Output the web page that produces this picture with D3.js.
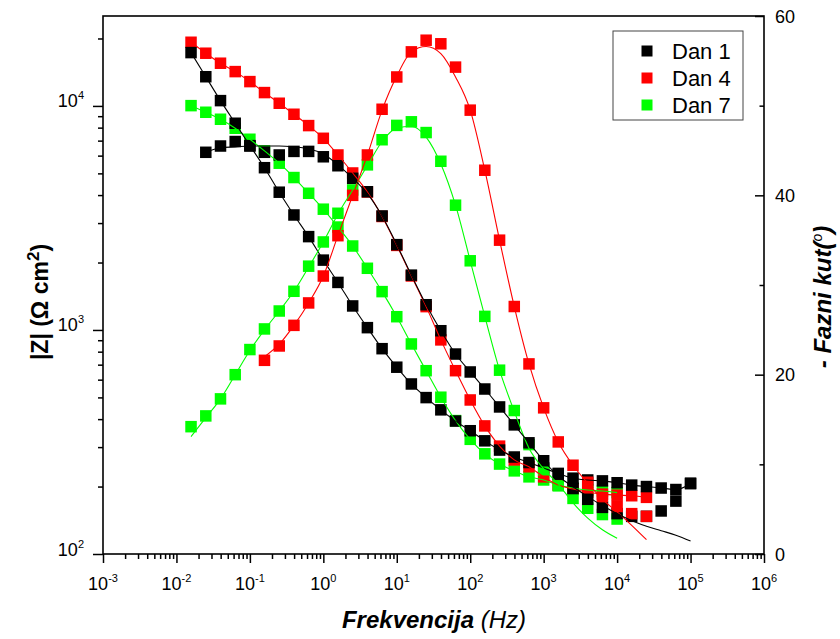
<!DOCTYPE html>
<html><head><meta charset="utf-8">
<script src="https://cdn.jsdelivr.net/npm/d3@7"></script>
<style>body{margin:0;background:#fff}svg{display:block}text{font-family:Arial,"Liberation Sans",sans-serif;fill:#000}</style>
</head><body><svg id="c" width="840" height="639"></svg>
<script>
// ---- data ----
const freq = [0.0158, 0.0251, 0.0398, 0.0631, 0.1, 0.158, 0.251, 0.398, 0.631, 1,
  1.58, 2.51, 3.98, 6.31, 10, 15.8, 25.1, 39.8, 63.1, 100,
  158, 251, 398, 631, 1000, 1580, 2510, 3980, 6310, 10000,
  15800, 25100, 39800, 63100, 100000];

const series = ["Dan 1", "Dan 4", "Dan 7"];
const colors = ["#000000", "#ff0000", "#00ff00"];

// |Z| (Ohm cm2)
const zDan1 = [17300, 13500, 10560, 8370, 6650, 5300, 4120, 3260, 2610, 2050,
  1630, 1280, 1024, 825, 682, 574, 499, 440, 392, 355,
  320, 291, 271, 256, 242, 229, 218, 214, 212, 208,
  203, 200, 197, 194, 206];
const zDan4 = [19240, 17190, 15510, 14230, 12840, 11470, 10280, 9180, 8170, 7170,
  6040, 5020, 4130, 3210, 2385, 1742, 1271, 903, 658, 487,
  373, 303, 263, 245, 221, 203, 195, 189, 185, 183,
  182, 179];
const zDan7 = [10030, 9370, 8720, 7950, 7100, 6300, 5550, 4790, 4075, 3460,
  2880, 2370, 1885, 1483, 1146, 866, 658, 501, 394, 325,
  280, 252, 235, 221, 214, 203, 197, 193, 191, 188];

// - phase angle (deg)
const pDan1 = [null, 44.8, 45.5, 46.0, 45.5, 44.8, 44.5, 44.9, 44.9, 44.3,
  43.3, 41.9, 40.4, 37.7, 34.5, 31.1, 27.8, 24.9, 22.3, 20.3,
  18.4, 16.4, 14.4, 12.4, 10.4, 8.9, 7.3, 6.1, 5.2, 4.5,
  4.2, 4.2, 4.8, 5.9, 7.9];
const pDan4 = [null, null, null, null, null, 21.6, 23.2, 25.5, 28.0, 31.0,
  35.5, 40.0, 44.5, 49.6, 53.2, 56.0, 57.3, 56.9, 54.3, 49.5,
  42.8, 35.0, 27.6, 21.2, 16.3, 12.5, 9.9, 8.0, 6.4, 5.3,
  4.5, 4.2];
const pDan7 = [14.2, 15.4, 17.3, 20.0, 22.8, 25.1, 27.1, 29.3, 32.1, 34.8,
  38.0, 40.6, 43.4, 46.2, 47.8, 48.2, 47.0, 43.8, 38.9, 32.7,
  26.5, 20.5, 16.0, 12.2, 9.4, 7.6, 6.2, 5.1, 4.4, 3.9];

// fitted phase curves
const pFit1 = [null, 44.8, 45.3, 45.4, 45.5, 45.5, 45.5, 45.4, 45.2, 44.6,
  43.4, 41.9, 40.2, 37.7, 34.5, 31.1, 27.8, 24.9, 22.3, 20.3,
  18.4, 16.4, 14.4, 12.4, 10.4, 8.7, 7.5, 6.4, 5.4, 4.5,
  3.7, 3.1, 2.6, 2.1, 1.45];
const pFit4 = [null, null, null, null, null, 22.0, 23.4, 25.5, 28.0, 31.0,
  35.5, 40.0, 44.5, 49.5, 53.3, 56.0, 56.6, 55.8, 53.2, 49.5,
  42.8, 35.0, 27.6, 21.2, 16.3, 12.5, 9.9, 7.9, 6.1, 4.7,
  3.2, 1.6];
const pFit7 = [13.1, 15.2, 17.3, 20.0, 22.7, 25.0, 27.1, 29.3, 32.0, 34.8,
  37.9, 40.6, 43.3, 46.0, 47.5, 47.7, 46.5, 43.5, 38.9, 32.7,
  26.5, 20.5, 15.9, 11.8, 9.5, 7.8, 5.7, 4.0, 2.7, 1.75];

const xMajor = [1e-3, 1e-2, 1e-1, 1e0, 1e1, 1e2, 1e3, 1e4, 1e5, 1e6];
const xExp = ["-3", "-2", "-1", "0", "1", "2", "3", "4", "5", "6"];
const zMajor = [100, 1000, 10000];
const zExp = ["2", "3", "4"];
const pTicks = [0, 20, 40, 60];
const pMinor = [10, 30, 50];

// ---- chart ----
const svg = d3.select("#c");
const L = 103, R = 764, T = 16, B = 554;
const x = d3.scaleLog().domain([1e-3, 1e6]).range([L, R]);
const yZ = d3.scaleLog().domain([100, 25200]).range([B, T]);
const yP = d3.scaleLinear().domain([0, 60]).range([B, T]);

function minorsLog(lo, hi) {
  const out = [];
  for (let e = lo; e < hi; e++) for (let m = 2; m <= 9; m++) out.push(m * Math.pow(10, e));
  return out;
}
const xMinor = minorsLog(-3, 6);
const zMinor = minorsLog(2, 5).filter(v => v <= 25200);

function styleAxis(g) {
  g.select(".domain").remove();
  g.selectAll(".tick line").attr("stroke", "#000").attr("stroke-width", 1.5);
  g.selectAll(".tick text").remove();
}

// bottom axis
svg.append("g").attr("transform", `translate(0,${B})`)
  .call(d3.axisBottom(x).tickValues(xMajor).tickSize(9).tickFormat("")).call(styleAxis);
svg.append("g").attr("transform", `translate(0,${B})`)
  .call(d3.axisBottom(x).tickValues(xMinor).tickSize(5).tickFormat("")).call(styleAxis);
// left axis
svg.append("g").attr("transform", `translate(${L},0)`)
  .call(d3.axisLeft(yZ).tickValues(zMajor).tickSize(10).tickFormat("")).call(styleAxis);
svg.append("g").attr("transform", `translate(${L},0)`)
  .call(d3.axisLeft(yZ).tickValues(zMinor).tickSize(5).tickFormat("")).call(styleAxis);
// right axis (ticks inward)
svg.append("g").attr("transform", `translate(${R},0)`)
  .call(d3.axisLeft(yP).tickValues(pTicks).tickSize(9).tickFormat("")).call(styleAxis);
svg.append("g").attr("transform", `translate(${R},0)`)
  .call(d3.axisLeft(yP).tickValues(pMinor).tickSize(4.5).tickFormat("")).call(styleAxis);

// frame
svg.append("rect").attr("x", L).attr("y", T).attr("width", R - L).attr("height", B - T)
  .attr("fill", "none").attr("stroke", "#000").attr("stroke-width", 1.6);

// tick labels
xMajor.forEach((v, i) => {
  const t = svg.append("text").attr("x", x(v)).attr("y", 590).attr("text-anchor", "middle")
    .style("font-size", "18px");
  t.append("tspan").text("10");
  t.append("tspan").attr("dy", -8).style("font-size", "11px").text(xExp[i]);
});
zMajor.forEach((v, i) => {
  const t = svg.append("text").attr("x", 84).attr("y", yZ(v) + 1.5).attr("text-anchor", "end")
    .style("font-size", "18px");
  t.append("tspan").text("10");
  t.append("tspan").attr("dy", -8).style("font-size", "11px").text(zExp[i]);
});
pTicks.forEach(v => {
  svg.append("text").attr("x", 775).attr("y", yP(v) + 6.5).style("font-size", "18px").text(v);
});

// axis titles
const xt = svg.append("text").attr("x", 434).attr("y", 628).attr("text-anchor", "middle")
  .style("font-size", "24px").style("font-style", "italic");
xt.append("tspan").style("font-weight", "bold").text("Frekvencija");
xt.append("tspan").text(" (Hz)");

const yl = svg.append("text").attr("transform", "translate(48,302) rotate(-90)")
  .attr("text-anchor", "middle").style("font-size", "23px").style("font-weight", "bold");
yl.append("tspan").text("|Z| (\u03A9 cm");
yl.append("tspan").attr("dy", -9).style("font-size", "17px").text("2");
yl.append("tspan").attr("dy", 9).text(")");

const yr = svg.append("text").attr("transform", "translate(831,297) rotate(-90)")
  .attr("text-anchor", "middle").style("font-size", "24px").style("font-weight", "bold")
  .style("font-style", "italic");
yr.append("tspan").text("- Fazni kut(");
yr.append("tspan").attr("dy", -9).style("font-size", "14px").style("font-weight", "normal").text("o");
yr.append("tspan").attr("dy", 9).text(")");

// data sets
const zSets = [zDan1, zDan4, zDan7];
const pSets = [pDan1, pDan4, pDan7];
const pFits = [pFit1, pFit4, pFit7];

const plot = svg.append("g");
const MS = 11.5;
function markers(vals, yScale, color) {
  const pts = vals.map((v, i) => ({f: freq[i], v})).filter(d => d.v != null);
  plot.append("g").selectAll("rect").data(pts).join("rect")
    .attr("x", d => x(d.f) - MS / 2).attr("y", d => yScale(d.v) - MS / 2)
    .attr("width", MS).attr("height", MS).attr("fill", color);
}
function curve(vals, yScale, color) {
  const pts = vals.map((v, i) => ({f: freq[i], v})).filter(d => d.v != null);
  plot.append("path").datum(pts)
    .attr("d", d3.line().x(d => x(d.f)).y(d => yScale(d.v)).curve(d3.curveMonotoneX))
    .attr("fill", "none").attr("stroke", color).attr("stroke-width", 1.1);
}

// |Z| markers first, then phase markers
[2, 1, 0].forEach(i => markers(zSets[i], yZ, colors[i]));
[2, 0, 1].forEach(i => markers(pSets[i], yP, colors[i]));
// fitted curves
[2, 1, 0].forEach(i => curve(zSets[i], yZ, colors[i]));
[2, 1, 0].forEach(i => curve(pFits[i], yP, colors[i]));

// legend
const lg = svg.append("g");
lg.append("rect").attr("x", 613).attr("y", 31).attr("width", 130).attr("height", 89)
  .attr("fill", "#fff").attr("stroke", "#444").attr("stroke-width", 1);
series.forEach((s, i) => {
  const cy = 51 + i * 27;
  lg.append("rect").attr("x", 647 - 5.5).attr("y", cy - 5.5).attr("width", 11).attr("height", 11)
    .attr("fill", colors[i]);
  lg.append("text").attr("x", 672).attr("y", cy + 8).style("font-size", "22px").text(s);
});
</script>
</body></html>
